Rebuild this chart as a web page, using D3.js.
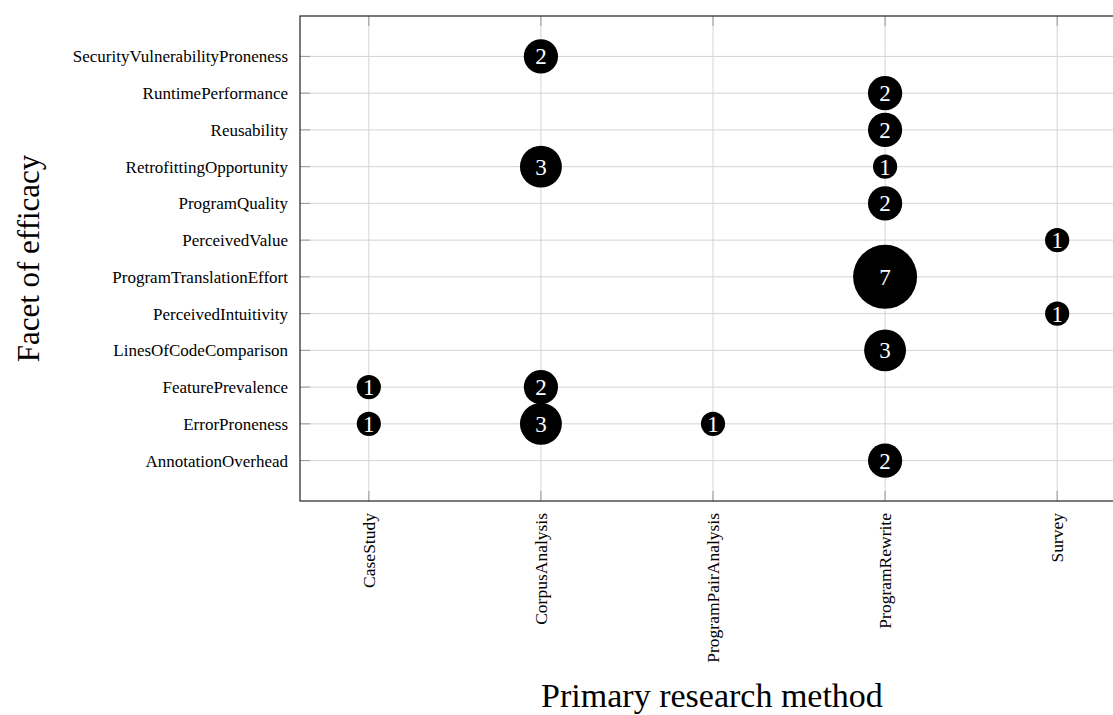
<!DOCTYPE html>
<html>
<head>
<meta charset="utf-8">
<script src="https://cdn.jsdelivr.net/npm/d3@7"></script>
<style>
  body { margin: 0; background: #fff; }
  text { font-family: "Liberation Serif", "DejaVu Serif", serif; }
</style>
</head>
<body>
<div id="chart"></div>
<script>
// categories
const methods = ['CaseStudy', 'CorpusAnalysis', 'ProgramPairAnalysis', 'ProgramRewrite', 'Survey']
const facets = [
  'AnnotationOverhead',
  'ErrorProneness',
  'FeaturePrevalence',
  'LinesOfCodeComparison',
  'PerceivedIntuitivity',
  'ProgramTranslationEffort',
  'PerceivedValue',
  'ProgramQuality',
  'RetrofittingOpportunity',
  'Reusability',
  'RuntimePerformance',
  'SecurityVulnerabilityProneness'
]

// counts per (method, facet)
const pointMethod = ['CorpusAnalysis', 'ProgramRewrite', 'ProgramRewrite', 'CorpusAnalysis', 'ProgramRewrite',
  'ProgramRewrite', 'Survey', 'ProgramRewrite', 'Survey', 'ProgramRewrite', 'CaseStudy', 'CorpusAnalysis',
  'CaseStudy', 'CorpusAnalysis', 'ProgramPairAnalysis', 'ProgramRewrite']
const pointFacet = ['SecurityVulnerabilityProneness', 'RuntimePerformance', 'Reusability', 'RetrofittingOpportunity',
  'RetrofittingOpportunity', 'ProgramQuality', 'PerceivedValue', 'ProgramTranslationEffort', 'PerceivedIntuitivity',
  'LinesOfCodeComparison', 'FeaturePrevalence', 'FeaturePrevalence', 'ErrorProneness', 'ErrorProneness',
  'ErrorProneness', 'AnnotationOverhead']
const pointCount = [2, 2, 2, 3, 1, 2, 1, 7, 1, 3, 1, 2, 1, 3, 1, 2]

const points = pointCount.map((c, i) => ({ method: pointMethod[i], facet: pointFacet[i], count: c }))

const W = 1113, H = 715
const plotLeft = 300, plotTop = 16, plotBottom = 501, plotRight = 1126

const svg = d3.select('#chart').append('svg')
  .attr('width', W)
  .attr('height', H)

let x = d3.scalePoint().domain(methods).range([plotLeft, plotRight]).padding(0.4)
let y = d3.scalePoint().domain(facets).range([plotBottom, plotTop]).padding(1.1)
let r = d3.scaleSqrt().domain([0, 7]).range([0, 32])

// grid lines
svg.append('g').selectAll('line')
  .data(methods).enter().append('line')
  .attr('x1', d => x(d)).attr('x2', d => x(d))
  .attr('y1', plotTop).attr('y2', plotBottom)
  .attr('stroke', '#d4d4d4').attr('stroke-width', 1)

svg.append('g').selectAll('line')
  .data(facets).enter().append('line')
  .attr('x1', plotLeft).attr('x2', plotRight)
  .attr('y1', d => y(d)).attr('y2', d => y(d))
  .attr('stroke', '#d4d4d4').attr('stroke-width', 1)

// inner tick marks
svg.append('g').selectAll('line')
  .data(methods).enter().append('line')
  .attr('x1', d => x(d)).attr('x2', d => x(d))
  .attr('y1', plotBottom).attr('y2', plotBottom - 10)
  .attr('stroke', '#999').attr('stroke-width', 1)
svg.append('g').selectAll('line')
  .data(methods).enter().append('line')
  .attr('x1', d => x(d)).attr('x2', d => x(d))
  .attr('y1', plotTop).attr('y2', plotTop + 10)
  .attr('stroke', '#999').attr('stroke-width', 1)
svg.append('g').selectAll('line')
  .data(facets).enter().append('line')
  .attr('x1', plotLeft).attr('x2', plotLeft + 10)
  .attr('y1', d => y(d)).attr('y2', d => y(d))
  .attr('stroke', '#999').attr('stroke-width', 1)

// frame
svg.append('rect')
  .attr('x', plotLeft).attr('y', plotTop)
  .attr('width', plotRight - plotLeft).attr('height', plotBottom - plotTop)
  .attr('fill', 'none').attr('stroke', '#222').attr('stroke-width', 1.2)

// tick labels
svg.append('g').selectAll('text')
  .data(facets).enter().append('text')
  .attr('x', plotLeft - 12)
  .attr('y', d => y(d))
  .attr('dy', '0.35em')
  .attr('text-anchor', 'end')
  .attr('font-size', 17)
  .text(d => d)

svg.append('g').selectAll('text')
  .data(methods).enter().append('text')
  .attr('transform', d => `translate(${x(d)},${plotBottom + 12}) rotate(-90)`)
  .attr('dy', '0.35em')
  .attr('text-anchor', 'end')
  .attr('font-size', 17.5)
  .text(d => d)

// bubbles
let nodes = svg.append('g').selectAll('g')
  .data(points).enter().append('g')
  .attr('transform', d => `translate(${x(d.method)},${y(d.facet)})`)

nodes.append('circle')
  .attr('r', d => r(d.count))
  .attr('fill', '#000')

nodes.append('text')
  .attr('text-anchor', 'middle')
  .attr('dy', '0.35em')
  .attr('fill', '#fff')
  .attr('font-size', 23)
  .text(d => d.count)

// axis titles
svg.append('text')
  .attr('transform', `translate(39,${(plotTop + plotBottom) / 2}) rotate(-90)`)
  .attr('text-anchor', 'middle')
  .attr('font-size', 31)
  .text('Facet of efficacy')

svg.append('text')
  .attr('x', 712)
  .attr('y', 707)
  .attr('text-anchor', 'middle')
  .attr('font-size', 34)
  .text('Primary research method')
</script>
</body>
</html>
